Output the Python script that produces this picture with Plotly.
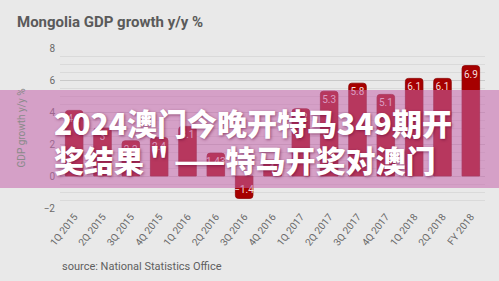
import plotly.graph_objects as go

categories = ["1Q 2015", "2Q 2015", "3Q 2015", "4Q 2015", "1Q 2016", "2Q 2016",
              "3Q 2016", "4Q 2016", "1Q 2017", "2Q 2017", "3Q 2017", "4Q 2017",
              "1Q 2018", "2Q 2018", "FY 2018"]
growth = [4.1, 3, 2.2, 2.4, 3.1, 1.43, -1.4, 1.0, 4.2, 5.3, 5.8, 5.1, 6.1, 6.1, 6.9]

title_text = "Mongolia GDP growth y/y %"
y_title = "GDP growth y/y %"
source_text = "source: National Statistics Office"
overlay_lines = ["2024澳门今晚开特马349期开", "奖结果＂——特马开奖对澳门"]

bg = "#e9e9e9"

fig = go.Figure()
fig.add_trace(go.Bar(
    x=categories, y=growth,
    marker=dict(color="#a60000", line=dict(color="#8a0000", width=0.8)),
    texttemplate="%{y}", textposition="inside", insidetextanchor="end",
    constraintext="none",
    textfont=dict(color="#f4dede", size=10, family="Roboto"),
    textangle=0, cliponaxis=False,
))

fig.update_layout(
    width=499, height=281,
    paper_bgcolor=bg, plot_bgcolor=bg,
    margin=dict(l=60, r=14, t=48, b=73),
    bargap=0.38, barcornerradius=3,
    showlegend=False,
    uniformtext=dict(minsize=10, mode="show"),
    font=dict(family="Roboto", color="#6a6a6a"),
    xaxis=dict(tickangle=-52, tickfont=dict(size=10, color="#6a6a6a"),
               showgrid=False, ticks="", showline=False, zeroline=False),
    yaxis=dict(range=[-2, 8], dtick=2, tickfont=dict(size=10, color="#6a6a6a"),
               showgrid=True, gridcolor="#c9c9c9", gridwidth=1, zeroline=False,
               minor=dict(dtick=0.5, showgrid=True, gridcolor="#dadada", gridwidth=1),
               title=dict(text=y_title, font=dict(size=10, color="#8a8a8a"), standoff=16),
               ticklabelstandoff=4),
)

fig.add_annotation(text="<b>" + title_text + "</b>", xref="paper", yref="paper",
                   x=-0.105, y=1.0, yshift=26, xanchor="left", yanchor="middle",
                   showarrow=False, font=dict(size=15, color="#5a5a5a", family="Roboto"))
fig.add_annotation(text=source_text, xref="paper", yref="paper",
                   x=0.0, y=0, yshift=-58, xanchor="left", yanchor="middle",
                   showarrow=False, font=dict(size=11, color="#5f5f5f", family="Roboto"))

# overlay band
fig.add_shape(type="rect", xref="paper", yref="paper", x0=-0.2, x1=1.1,
              y0=(208 - 188) / 160, y1=(208 - 90) / 160,
              fillcolor="rgba(196,100,172,0.55)", line=dict(width=0), layer="above")

for line, ypix in zip(overlay_lines, [122, 159]):
    fig.add_annotation(text=line, xref="paper", yref="paper",
                       x=-0.018, y=(208 - ypix) / 160, xanchor="left", yanchor="middle",
                       showarrow=False,
                       font=dict(size=30, color="white", family="Noto Sans CJK SC",
                                 weight=900,
                                 shadow="1px 1px 3px rgba(90,0,50,0.55)"))

fig.write_html("out.html")
